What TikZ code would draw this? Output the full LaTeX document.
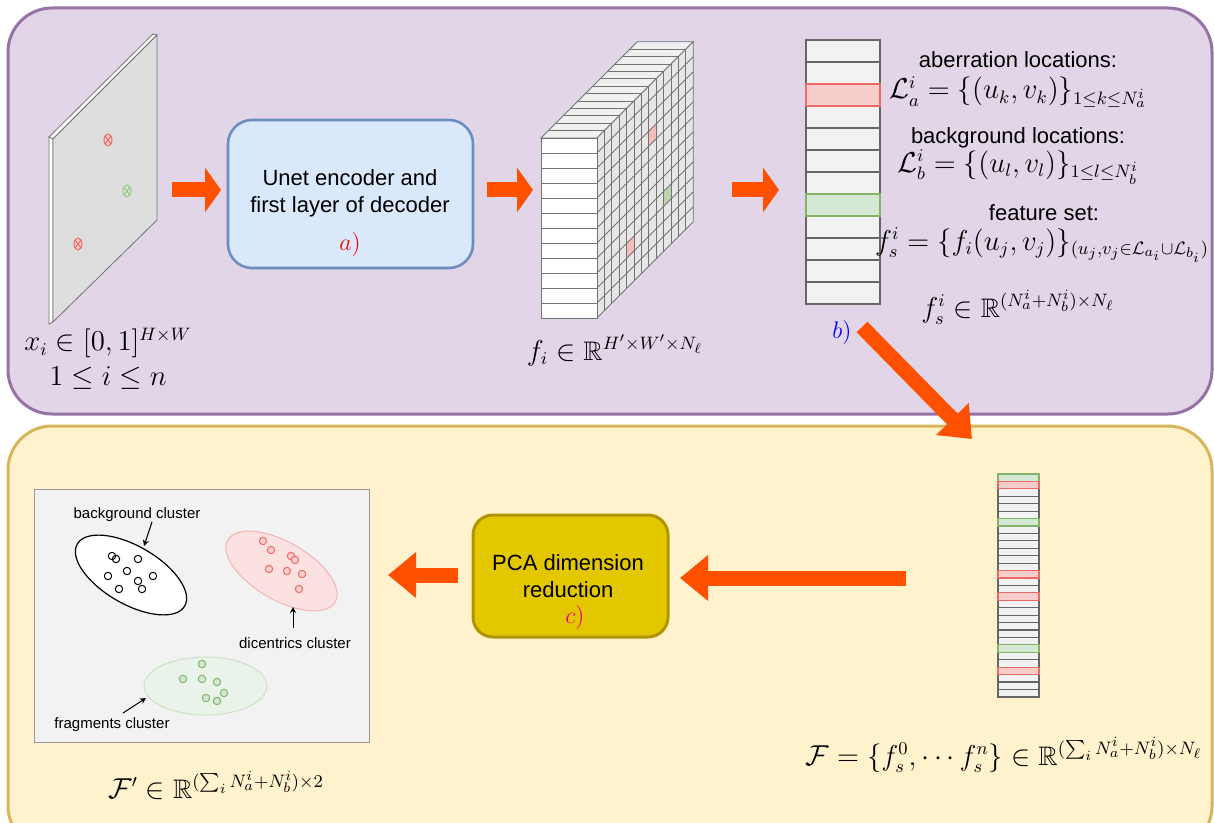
\documentclass[tikz,border=0pt]{standalone}
\usepackage{amsmath,amssymb}
\usepackage{fontspec}
\setmainfont{Liberation Sans}
\usetikzlibrary{arrows.meta}
\usetikzlibrary{calc}
\definecolor{toppanel}{HTML}{E1D5E7}
\definecolor{topedge}{HTML}{9673A6}
\definecolor{botpanel}{HTML}{FFF2CC}
\definecolor{botedge}{HTML}{D6B656}
\definecolor{unetfill}{HTML}{DAE8FC}
\definecolor{unetedge}{HTML}{6C8EBF}
\definecolor{pcafill}{HTML}{E3C800}
\definecolor{pcaedge}{HTML}{B09500}
\definecolor{arroworange}{HTML}{FF5000}
\definecolor{cellred}{HTML}{F8CECC}
\definecolor{edgered}{HTML}{EA6B66}
\definecolor{cellgreen}{HTML}{D5E8D4}
\definecolor{edgegreen}{HTML}{82B366}
\definecolor{cellgray}{HTML}{F2F2F2}
\definecolor{cubetop}{HTML}{F0F0F0}
\definecolor{cubeside}{HTML}{E6E6E6}
\tikzset{l/.style={font=\fontsize{11}{13.5}\selectfont, align=center}}
\tikzset{m/.style={font=\fontsize{13.4}{15.5}\selectfont}}
\tikzset{tag/.style={font=\fontsize{13}{15}\selectfont}}
\tikzset{s/.style={font=\fontsize{7.5}{9}\selectfont}}
\tikzset{
bigarrow/.style={draw=arroworange, line width=7.5pt, -{Triangle[length=8pt,width=22pt]}},
longarrow/.style={draw=arroworange, line width=7.5pt, -{Triangle[length=14pt,width=22pt]}},
cube/.style={draw=black!55, line width=0.4pt},
vcell/.style={draw=black!60, fill=cellgray, line width=0.6pt},
ptr/.style={draw=black, line width=0.5pt, -{Stealth[length=3pt,width=3pt]}}
}
\newcommand{\spotmark}[3]{%
  \draw[draw=#2, fill=#3, line width=0.5pt] (#1) ellipse[x radius=4, y radius=6];
  \draw[draw=#2, line width=0.5pt] ($(#1)+(-3,-4)$) -- ($(#1)+(3,4)$) ($(#1)+(3,-4)$) -- ($(#1)+(-3,4)$);}

\begin{document}
\begin{tikzpicture}[x=0.5pt,y=-0.5pt]
    \useasboundingbox (0,0) rectangle (1214,823);
    % panels
    \draw[draw=topedge, fill=toppanel, line width=1.5pt, rounded corners=22pt] (8,8) rectangle (1212,414);
    \draw[draw=botedge, fill=botpanel, line width=1.5pt, rounded corners=22pt] (8,426) rectangle (1212,850);
    \coordinate (a1s) at (172,190);
    \coordinate (a1e) at (221,190);
    \coordinate (a2s) at (487,190);
    \coordinate (a2e) at (533,190);
    \coordinate (a3s) at (732,190);
    \coordinate (a3e) at (779,190);
    \coordinate (a4s) at (862,327);
    \coordinate (a4e) at (972,439);
    \coordinate (a5s) at (906,578);
    \coordinate (a5e) at (680,578);
    \coordinate (a6s) at (458,575);
    \coordinate (a6e) at (388,575);
    % input image
    \draw[cube, fill=white] (49,137) -- (153,34) -- (157,35) -- (53,139) -- cycle;
    \draw[cube, fill=white] (49,137) -- (53,139) -- (53,322) -- (49,324) -- cycle;
    \draw[cube, fill=black!13] (53,139) -- (157,35) -- (157,220) -- (53,322) -- cycle;
    \spotmark{108,140}{edgered}{cellred}
    \spotmark{127,191}{edgegreen!80}{cellgreen}
    \spotmark{78,244}{edgered}{cellred}
    \node[m] (xlab) at (108,343) {$x_i\in[0,1]^{H\times W}$};
    \node[m] (nlab) at (108,378) {$1\le i\le n$};
    % unet
    \node[draw=unetedge, fill=unetfill, line width=1.3pt, rounded corners=12pt,
      minimum width=122.5pt, minimum height=74pt] (unet) at (350.5,194) {};
    \node[l] (unettxt) at (350,193) {Unet encoder and\\first layer of decoder};
    \node[tag, text=red] (alab) at (350,245) {$a)$};
    % feature cube
    \def\dd{7.4}
    \draw[cube, fill=cubetop] (541,138) -- (597,138) -- ({597+13*\dd},{138-13*\dd}) -- ({541+13*\dd},{138-13*\dd}) -- cycle;
    \foreach \k in {1,...,12}
      \draw[cube] ({541+\k*\dd},{138-\k*\dd}) -- ({597+\k*\dd},{138-\k*\dd});
    \fill[cubeside] (597,138) -- ({597+13*\dd},{138-13*\dd}) -- ({597+13*\dd},{318-13*\dd}) -- (597,318) -- cycle;
    \foreach \c/\r/\col in {7/3/edgered!45, 9/8/edgegreen!55, 4/9/edgered!45}
      \fill[\col] ({597+\c*\dd},{138+15*\r-\c*\dd}) -- ++(\dd,-\dd) -- ++(0,15) -- ++(-\dd,\dd) -- cycle;
    \foreach \k in {1,...,12}
      \draw[cube] ({597+\k*\dd},{138-\k*\dd}) -- ({597+\k*\dd},{318-\k*\dd});
    \foreach \r in {1,...,11}
      \draw[cube] (597,{138+15*\r}) -- ({597+13*\dd},{138+15*\r-13*\dd});
    \draw[cube] (597,138) -- ({597+13*\dd},{138-13*\dd}) -- ({597+13*\dd},{318-13*\dd}) -- (597,318);
    \draw[cube, fill=white] (541,138) rectangle (597,318);
    \foreach \r in {1,...,11}
      \draw[cube] (541,{138+15*\r}) -- (597,{138+15*\r});
    \node[m] (flab) at (615,350) {$f_i\in\mathbb{R}^{H'\times W'\times N_\ell}$};
    % feature vector
    \foreach \r in {0,...,11}
      \draw[vcell] (806,{40+22*\r}) rectangle (880,{62+22*\r});
    \draw[vcell, fill=cellred, draw=edgered] (806,84) rectangle (880,106);
    \draw[vcell, fill=cellgreen, draw=edgegreen] (806,194) rectangle (880,216);
    \node[l] (abtxt) at (1018,60) {aberration locations:};
    \node[m] (abset) at (1018,92) {$\mathcal{L}_a^i=\{(u_k,v_k)\}_{1\le k\le N_a^i}$};
    \node[l] (bgtxt) at (1018,138) {background locations:};
    \node[m] (bgset) at (1018,167) {$\mathcal{L}_b^i=\{(u_l,v_l)\}_{1\le l\le N_b^i}$};
    \node[l] (fstxt) at (1044,213) {feature set:};
    \node[m] (fsset) at (1042,245) {$f_s^i=\{f_i(u_j,v_j)\}_{(u_j,v_j\in\mathcal{L}_{a_i}\cup\mathcal{L}_{b_i})}$};
    \node[m] (fsdim) at (1018,307) {$f_s^i\in\mathbb{R}^{(N_a^i+N_b^i)\times N_\ell}$};
    \node[tag, text=blue] (blab) at (842,333) {$b)$};
    % stacked features
    \foreach \r in {0,...,29}
      \draw[vcell] (998,{474+7.43*\r}) rectangle (1039,{474+7.43*(\r+1)});
    \foreach \r in {0,6,23}
      \draw[vcell, fill=cellgreen, draw=edgegreen] (998,{474+7.43*\r}) rectangle (1039,{474+7.43*(\r+1)});
    \foreach \r in {1,13,16,26}
      \draw[vcell, fill=cellred, draw=edgered] (998,{474+7.43*\r}) rectangle (1039,{474+7.43*(\r+1)});
    \node[m] (Flab) at (1004,755) {$\mathcal{F}=\{f_s^0,\cdots f_s^n\}\in\mathbb{R}^{(\sum_i N_a^i+N_b^i)\times N_\ell}$};
    % pca
    \node[draw=pcaedge, fill=pcafill, line width=1.5pt, rounded corners=10pt,
      minimum width=97.5pt, minimum height=61pt] (pca) at (570.5,576) {};
    \node[l] (pcatxt) at (568,576) {PCA dimension\\reduction};
    \node[tag, text=magenta] (clab) at (575,617) {$c)$};
    % scatter plot
    \draw[draw=black!40, fill=black!5, line width=0.5pt] (34,489) rectangle (369,742);
    \draw[draw=black, fill=white, line width=0.6pt, rotate around={-30:(131,575)}] (131,575) ellipse[x radius=62, y radius=29];
    \foreach \p in {(112,556),(116,559),(138,559),(127,571),(108,576),(138,581),(153,576),(119,589),(142,589)}
      \draw[black, line width=0.5pt] \p circle[radius=3.7];
    \draw[draw=edgered!50, fill=cellred!60, line width=0.5pt, rotate around={-30:(281.5,571)}] (281.5,571) ellipse[x radius=62, y radius=29];
    \foreach \p in {(263,541),(271,550),(291,556),(295,560),(269,569),(287,571),(302,574),(299,589)}
      \draw[draw=edgered, fill=cellred, line width=0.5pt] \p circle[radius=3.7];
    \draw[draw=edgegreen!40, fill=cellgreen!50, line width=0.5pt] (205.5,686) ellipse[x radius=61.5, y radius=29];
    \foreach \p in {(202,664),(183,679),(202,679),(217,682),(224,693),(206,698),(217,701)}
      \draw[draw=edgegreen, fill=cellgreen, line width=0.5pt] \p circle[radius=3.7];
    \node[s] (bgcl) at (137,515) {background cluster};
    \node[s] (dccl) at (295,643) {dicentrics cluster};
    \node[s] (frcl) at (112,725) {fragments cluster};
    \coordinate (bgpt) at (144,546);
    \coordinate (dcpt) at (293,607);
    \coordinate (frpt) at (146,698);
    \draw[ptr] ($(bgcl.south)+(15,-7)$) -- (bgpt);
    \draw[ptr] (dccl.north) ++(-2,-2) -- (dcpt);
    \draw[ptr] (123,713) -- (frpt);
    \node[m] (Fplab) at (216,785) {$\mathcal{F}'\in\mathbb{R}^{(\sum_i N_a^i+N_b^i)\times 2}$};
    % orange arrows
    \draw[bigarrow] (a1s) -- (a1e);
    \draw[bigarrow] (a2s) -- (a2e);
    \draw[bigarrow] (a3s) -- (a3e);
    \draw[longarrow] (a4s) -- (a4e);
    \draw[longarrow] (a5s) -- (a5e);
    \draw[longarrow] (a6s) -- (a6e);
  \end{tikzpicture}
\end{document}
